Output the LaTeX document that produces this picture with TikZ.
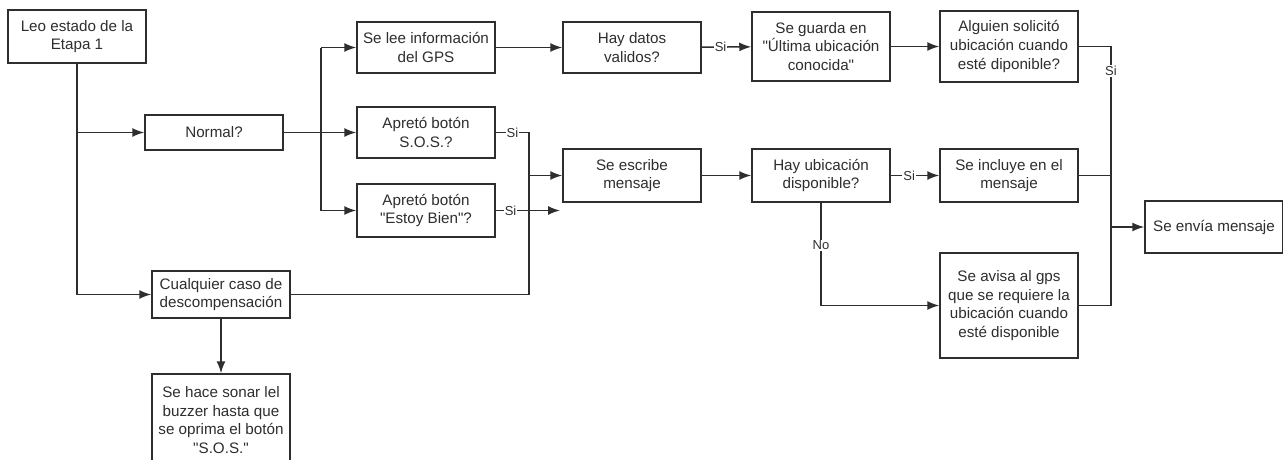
\documentclass[tikz,border=0pt]{standalone}
\usepackage{fontspec}
\setmainfont{Liberation Sans}
\usepackage{tikz}
\usetikzlibrary{arrows.meta,shapes}
\definecolor{ink}{gray}{0.18}
\tikzstyle{block}=[draw=ink,line width=1.5pt,rectangle,fill=white,text=ink,align=center,
    minimum width=138pt,inner sep=2pt,font=\fontsize{15.2}{18.8}\selectfont]
\tikzstyle{link}=[draw=ink,line width=1.5pt]
\tikzstyle{arrow}=[link,-{Latex[length=12pt,width=9pt]}]
\tikzstyle{answer}=[fill=white,text=ink,inner sep=1pt,font=\fontsize{13}{15}\selectfont]
\newcommand{\qt}{\textquotedbl}

\begin{document}
\begin{tikzpicture}[x=1pt,y=-1pt]
    \useasboundingbox (0,0) rectangle (1283,459);
    % First we draw the boxes
    \foreach \pos/\name/\h/\txt in {
        {(77,36.5)/leo/53/{Leo estado de la\\Etapa 1}},
        {(214,132.5)/normal/35/{Normal?}},
        {(426,47.5)/gps/51/{Se lee información\\del GPS}},
        {(426,132.5)/sos/51/{Apretó botón\\S.O.S.?}},
        {(426,210.5)/estoy/53/{Apretó botón\\\qt Estoy Bien\qt?}},
        {(221,294.5)/cualquier/47/{Cualquier caso de\\descompensación}},
        {(221,420)/sonar/92/{Se hace sonar lel\\buzzer hasta que\\se oprima el botón\\\qt S.O.S.\qt}},
        {(632,47.5)/datos/51/{Hay datos\\validos?}},
        {(632,175.5)/escribe/53/{Se escribe\\mensaje}},
        {(821,46.5)/guarda/69/{Se guarda en\\\qt Última ubicación\\conocida\qt}},
        {(1009,46.5)/alguien/71/{Alguien solicitó\\ubicación cuando\\esté diponible?}},
        {(821,175.5)/ubic/53/{Hay ubicación\\disponible?}},
        {(1009,175.5)/incluye/53/{Se incluye en el\\mensaje}},
        {(1009,305.5)/avisa/105/{Se avisa al gps\\que se requiere la\\ubicación cuando\\esté disponible}},
        {(1214,227)/envia/52/{Se envía mensaje}}}
        \node[block,minimum height=\h pt] (\name) at \pos {\txt};

    % Points where the lines meet
    \coordinate (split) at (321,132.5);
    \coordinate (join) at (529,132.5);
    \coordinate (merge) at (1111,227);
    \coordinate (loose) at (560,210.5);

    % Plain arrows
    \foreach \source/\dest in {normal/sos,gps/datos,guarda/alguien,escribe/ubic,cualquier/sonar}
        \draw[arrow] (\source) -- (\dest);
    \foreach \source/\dest in {datos/guarda,ubic/incluye}
        \draw[arrow] (\source) -- node[answer,pos=0.38] {Si} (\dest);

    % Left branches
    \draw[link] (leo) -- (leo |- cualquier);
    \draw[arrow] (leo |- cualquier) -- (cualquier);
    \draw[arrow] (leo |- normal) -- (normal);
    \draw[link] (split |- gps) -- (split |- estoy);
    \foreach \dest in {gps,estoy}
        \draw[arrow] (split |- \dest) -- (\dest);

    % Into the message
    \draw[link] (sos) -- node[answer] {Si} (join) -- (join |- cualquier) -- (cualquier);
    \draw[arrow] (join |- escribe) -- (escribe);
    \draw[arrow] (estoy) -- node[answer,pos=0.23] {Si} (loose);
    \draw[arrow] (ubic) -- node[answer,pos=0.415] {No} (ubic |- avisa) -- (avisa);

    % Right side towards sending
    \draw[link] (alguien) -- (alguien -| merge) -- node[answer,pos=0.094] {Si} (avisa -| merge) -- (avisa);
    \draw[link] (incluye) -- (incluye -| merge);
    \draw[arrow] (merge) -- (envia);
\end{tikzpicture}
\end{document}
